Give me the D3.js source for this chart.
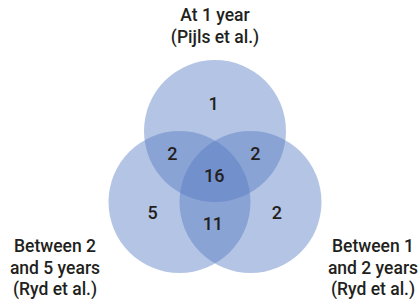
<!DOCTYPE html>
<html lang="en">
<head>
<meta charset="UTF-8">
<title>Venn</title>
<script src="https://d3js.org/d3.v7.min.js"></script>
<style>
  body { margin: 0; background: #fff; }
  text { font-family: Roboto, "Liberation Sans", Arial, sans-serif; font-weight: 500; fill: #231f20; }
</style>
</head>
<body>
<script>
// sets (circles) and their labels
var setNames = ["top", "left", "right"];
var setLabels = [
  ["At 1 year", "(Pijls et al.)"],
  ["Between 2", "and 5 years", "(Ryd et al.)"],
  ["Between 1", "and 2 years", "(Ryd et al.)"]
];
// region counts
var regionNames = ["top", "top+left", "top+right", "all", "left", "left+right", "right"];
var regionCounts = [1, 2, 2, 16, 5, 11, 2];

var width = 418, height = 299;
var unit = 71; // circle radius in px

var svg = d3.select("body").append("svg")
  .attr("width", width).attr("height", height);

// layout space: radius = 1 unit
var x = d3.scaleLinear().domain([0, 1]).range([215, 215 + unit]);
var y = d3.scaleLinear().domain([0, 1]).range([131, 131 + unit]);

var centers = { top: [0, 0], left: [-0.5, 1], right: [0.5, 1] };

svg.selectAll("circle.set")
  .data(setNames)
  .enter().append("circle")
  .attr("class", "set")
  .attr("cx", function(d) { return x(centers[d][0]); })
  .attr("cy", function(d) { return y(centers[d][1]); })
  .attr("r", unit)
  .attr("fill", "rgb(85,121,194)")
  .attr("fill-opacity", 0.44);

// where each region count sits (layout units)
var regionPos = {
  "top": [-0.02, -0.39],
  "top+left": [-0.6, 0.32],
  "top+right": [0.57, 0.32],
  "all": [-0.01, 0.63],
  "left": [-0.88, 1.15],
  "left+right": [-0.03, 1.3],
  "right": [0.87, 1.15]
};

svg.selectAll("text.count")
  .data(regionNames)
  .enter().append("text")
  .attr("class", "count")
  .attr("x", function(d) { return x(regionPos[d][0]); })
  .attr("y", function(d) { return y(regionPos[d][1]); })
  .attr("dy", "0.36em")
  .attr("text-anchor", "middle")
  .style("font-size", "18px")
  .text(function(d, i) { return regionCounts[i]; });

// set labels
var labelAnchor = { top: [215, 21], left: [55, 252], right: [373, 252] };
var lineH = 21.5;

var labels = svg.selectAll("text.setlabel")
  .data(setNames)
  .enter().append("text")
  .attr("class", "setlabel")
  .attr("text-anchor", "middle")
  .style("font-size", "17.5px")
  .attr("transform", function(d) { return "translate(" + labelAnchor[d] + ")"; });

labels.selectAll("tspan")
  .data(function(d, i) { return setLabels[i]; })
  .enter().append("tspan")
  .attr("x", 0)
  .attr("y", function(d, i) { return i * lineH; })
  .text(function(d) { return d; });
</script>
</body>
</html>
